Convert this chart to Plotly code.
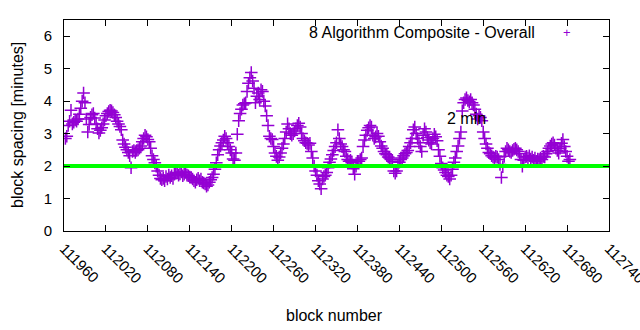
import plotly.graph_objects as go

# Block spacing (minutes), one sample every 2 blocks starting at block 111962
FIRST_BLOCK = 111962
BLOCK_STEP = 2
spacing = [
    2.85, 2.92, 3.25, 3.38, 3.72, 3.3, 3.35, 3.42, 3.38, 3.45,
    3.6, 3.78, 4.0, 4.25, 3.95, 3.45, 3.05, 3.28, 3.5, 3.58,
    3.62, 3.48, 3.3, 3.15, 3.02, 3.1, 3.18, 3.3, 3.42, 3.55,
    3.62, 3.68, 3.72, 3.7, 3.65, 3.58, 3.5, 3.38, 3.3, 3.22,
    3.12, 2.8, 2.68, 2.58, 2.5, 2.42, 2.32, 1.95, 2.45, 2.48,
    2.42, 2.48, 2.5, 2.55, 2.62, 2.75, 2.85, 2.95, 2.9, 2.82,
    2.75, 2.55, 2.32, 2.2, 2.1, 2.0, 1.85, 1.72, 1.62, 1.58,
    1.62, 1.55, 1.68, 1.6, 1.72, 1.65, 1.7, 1.62, 1.75, 1.78,
    1.8, 1.72, 1.76, 1.82, 1.7, 1.75, 1.8, 1.72, 1.7, 1.66,
    1.65, 1.6, 1.55, 1.5, 1.58, 1.62, 1.55, 1.6, 1.5, 1.48,
    1.45, 1.38, 1.42, 1.5, 1.58, 1.65, 1.75, 1.9, 2.1, 2.35,
    2.5, 2.62, 2.72, 2.8, 2.92, 2.85, 2.72, 2.6, 2.5, 2.4,
    2.22, 2.18, 2.4, 2.98, 3.4, 3.62, 3.75, 3.88, 3.92, 3.95,
    4.3, 4.55, 4.72, 4.88, 4.62, 4.4, 3.95, 4.15, 4.25, 4.05,
    4.35, 4.3, 4.0, 3.85, 3.55, 3.25, 2.92, 2.85, 2.82, 2.6,
    2.4, 2.3, 2.18, 2.28, 2.4, 2.55, 2.68, 2.85, 3.05, 3.3,
    3.15, 3.0, 2.95, 3.0, 3.08, 3.15, 3.25, 3.32, 3.2, 3.0,
    2.85, 2.78, 2.72, 2.7, 2.65, 2.7, 2.45, 2.25, 2.0, 1.85,
    1.72, 1.55, 1.45, 1.3, 1.6, 1.68, 1.72, 1.8, 1.95, 2.12,
    2.22, 2.35, 2.48, 2.6, 2.72, 3.12, 2.85, 2.68, 2.6, 2.5,
    2.45, 2.3, 2.2, 2.15, 2.18, 2.1, 1.92, 1.75, 2.0, 2.15,
    2.15, 2.2, 2.25, 2.6, 2.8, 2.95, 3.1, 3.18, 3.25, 3.2,
    2.95, 2.85, 2.9, 3.0, 2.92, 2.75, 2.62, 2.55, 2.45, 2.38,
    2.35, 2.28, 2.25, 2.2, 2.15, 1.85, 1.78, 1.85, 2.0, 2.12,
    2.2, 2.25, 2.32, 2.38, 2.42, 2.48, 2.6, 2.72, 2.85, 3.12,
    3.2, 3.0, 2.85, 2.72, 2.6, 2.45, 2.95, 3.15, 3.05, 2.88,
    2.8, 2.72, 2.68, 2.85, 2.98, 2.9, 2.78, 2.5, 2.3, 2.08,
    1.95, 1.88, 1.8, 1.72, 1.68, 1.6, 1.72, 1.9, 2.12, 2.25,
    2.45, 2.62, 2.85, 3.05, 3.7, 3.95, 4.05, 4.1, 4.02, 3.98,
    4.05, 3.95, 3.88, 3.75, 3.6, 3.45, 3.55, 3.5, 3.4, 3.05,
    2.85, 2.68, 2.55, 2.42, 2.38, 2.32, 2.28, 2.25, 2.3, 2.28,
    2.2, 2.05, 1.65, 1.98, 2.3, 2.45, 2.55, 2.5, 2.45, 2.42,
    2.48, 2.52, 2.55, 2.5, 2.45, 2.38, 2.2, 2.0, 2.18, 2.28,
    2.3, 2.25, 2.32, 2.22, 2.28, 2.18, 2.25, 2.15, 2.22, 2.2,
    2.25, 2.2, 2.3, 2.28, 2.38, 2.45, 2.55, 2.62, 2.68, 2.72,
    2.65, 2.55, 2.48, 2.4, 2.55, 2.7, 2.82, 2.6, 2.45, 2.3,
    2.15, 2.2,
]
blocks = list(range(FIRST_BLOCK, FIRST_BLOCK + BLOCK_STEP * len(spacing), BLOCK_STEP))

# Axis extents and the 2-minute target
X_RANGE = [111960, 112740]
Y_RANGE = [0, 6.5]
TARGET_MINUTES = 2
series_name = "8 Algorithm Composite - Overall"
target_label = "2 min"
x_title = "block number"
y_title = "block spacing [minutes]"

PURPLE = "#9400D3"
GREEN = "#00FF00"
FONT = "Liberation Sans, Arial, sans-serif"
TEXT = dict(family=FONT, size=16, color="black")

# Plot frame in pixels
LEFT, RIGHT, TOP, BOTTOM = 64, 609, 20, 231
PLOT_W, PLOT_H = RIGHT - LEFT, BOTTOM - TOP


def px_x(px):
    return (px - LEFT) / PLOT_W


def px_y(py):
    return (BOTTOM - py) / PLOT_H


fig = go.Figure()

fig.add_trace(go.Scatter(
    x=blocks, y=spacing, mode="markers", name=series_name,
    marker=dict(symbol="cross-thin", size=9, color=PURPLE,
                line=dict(color=PURPLE, width=1.5)),
    showlegend=False,
))

fig.add_trace(go.Scatter(
    x=X_RANGE, y=[TARGET_MINUTES, TARGET_MINUTES], mode="lines",
    line=dict(color=GREEN, width=4), showlegend=False,
))

axis_common = dict(
    showline=True, linecolor="black", linewidth=1, mirror="allticks",
    ticks="inside", ticklen=6, tickcolor="black", showgrid=False,
    zeroline=False, tickfont=dict(family=FONT, size=15, color="black"),
    ticklabeloverflow="allow",
)

fig.update_xaxes(range=X_RANGE, tick0=111960, dtick=60, tickangle=45,
                 tickformat="d", ticklabelstandoff=2, **axis_common)
fig.update_yaxes(range=Y_RANGE, tick0=0, dtick=1, ticklabelstandoff=8,
                 **axis_common)

# Axis titles
fig.add_annotation(x=px_x(334), y=px_y(315), xref="x domain", yref="y domain",
                   text=x_title, showarrow=False, font=TEXT,
                   xanchor="center", yanchor="middle")
fig.add_annotation(x=px_x(17), y=px_y(125), xref="x domain", yref="y domain",
                   text=y_title, showarrow=False, font=TEXT, textangle=-90,
                   xanchor="center", yanchor="middle")

# Key entry (text with sample marker to its right)
fig.add_annotation(x=px_x(537), y=px_y(32), xref="x domain", yref="y domain",
                   text=series_name, showarrow=False, xanchor="right",
                   yanchor="middle", font=TEXT)
fig.add_annotation(x=px_x(567), y=px_y(32), xref="x domain", yref="y domain",
                   text="+", showarrow=False, xanchor="center", yanchor="middle",
                   font=dict(family=FONT, size=13, color=PURPLE))

# Label for the target line
fig.add_annotation(x=112505, y=3.48, xref="x", yref="y", text=target_label,
                   showarrow=False, xanchor="left", yanchor="middle", font=TEXT)

fig.update_layout(
    width=640, height=330,
    margin=dict(l=LEFT, r=640 - RIGHT, t=TOP, b=330 - BOTTOM, autoexpand=False),
    paper_bgcolor="white", plot_bgcolor="white",
    font=TEXT,
)

fig.write_html("out.html")
